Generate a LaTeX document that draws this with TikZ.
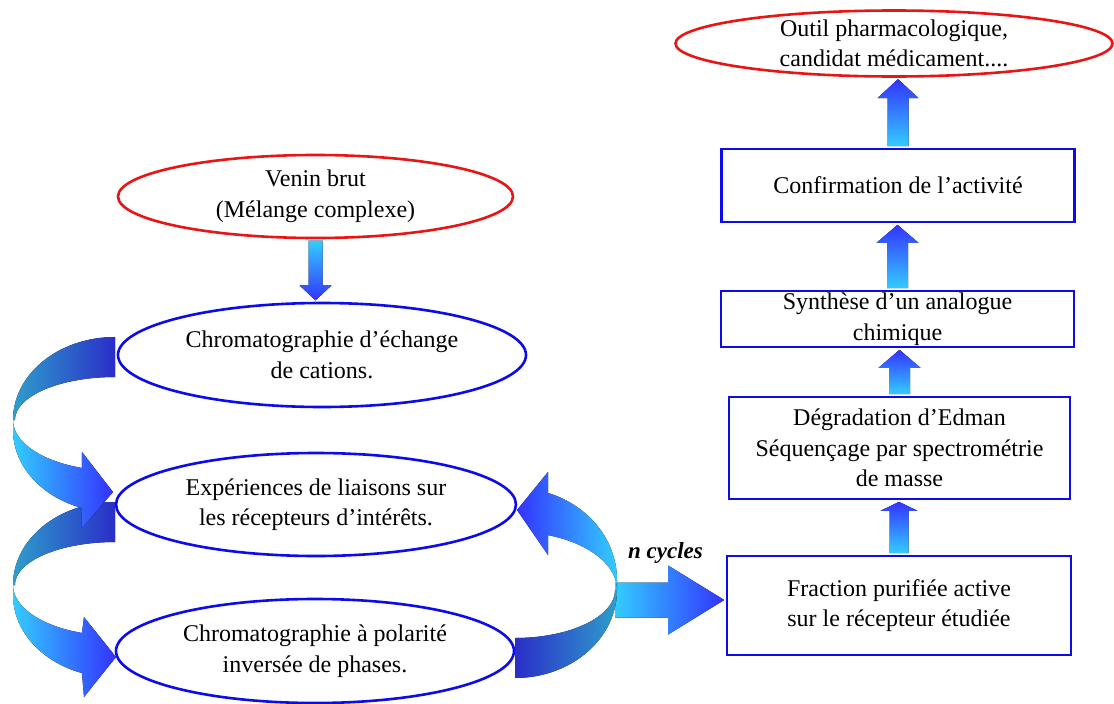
\documentclass[tikz,border=0pt]{standalone}
\usepackage{fontspec}
\setmainfont{Liberation Serif}
\usetikzlibrary{shapes.geometric,calc}
\definecolor{bord}{RGB}{12,12,235}
\definecolor{redb}{RGB}{235,20,20}
\definecolor{cyanA}{RGB}{51,204,255}
\definecolor{blueA}{RGB}{51,51,255}
\definecolor{darkA}{RGB}{42,46,200}
\definecolor{tealA}{RGB}{46,158,203}
\newcommand\vblock[6]{% #1 from, #2 to (tip), #3 half shaft, #4 half head, #5 head length (negative = down), #6 style
  \fill[#6] let \p1=(#1), \p2=(#2) in
  ({\x1-#3},{\y1}) -- ({\x1-#3},{\y2-(#5)}) -- ({\x1-#4},{\y2-(#5)}) -- ({\x1},{\y2}) --
  ({\x1+#4},{\y2-(#5)}) -- ({\x1+#3},{\y2-(#5)}) -- ({\x1+#3},{\y1}) -- cycle;}
\begin{document}
\begin{tikzpicture}[x=1pt,y=-1pt,
  every node/.style={font=\fontsize{24}{30.5}\selectfont, align=center},
  ell/.style={ellipse, draw=bord, line width=2.6pt, inner sep=0pt},
  redell/.style={ellipse, draw=redb, line width=2.6pt, inner sep=0pt},
  box/.style={rectangle, draw=bord, line width=2.8pt, inner sep=0pt},
  uparrow/.style={top color=blueA, bottom color=cyanA},
  downarrow/.style={top color=cyanA, bottom color=blueA},
  backband/.style={left color=tealA, right color=darkA},
  backbandR/.style={left color=darkA, right color=tealA},
  frontband/.style={left color=cyanA, right color=blueA},
  frontbandR/.style={left color=blueA, right color=cyanA}]
\fill[white] (0,0) rectangle (1114,704);
\useasboundingbox (0,0) rectangle (1114,704);

% right column
\node[redell, minimum width=437pt, minimum height=66pt,
      label={center:{Outil pharmacologique,\\candidat médicament....}}] (outil) at (894,43.5) {};
\node[box, minimum width=353pt, minimum height=73pt] (conf) at (898,185.5) {Confirmation de l’activité};
\node[box, minimum width=353pt, minimum height=56pt] (synth) at (897.5,319) {Synthèse d’un analogue\\chimique};
\node[box, minimum width=341pt, minimum height=102pt] (degr) at (899.5,448) {Dégradation d’Edman\\Séquençage par spectrométrie\\de masse};
\node[box, minimum width=344pt, minimum height=99pt] (frac) at (899,605.5) {Fraction purifiée active\\sur le récepteur étudiée};

% left column
\node[redell, minimum width=395pt, minimum height=83pt,
      label={center:{Venin brut\\(Mélange complexe)}}] (venin) at (315.5,196.5) {};
\node[ell, minimum width=408pt, minimum height=104pt,
      label={center:{Chromatographie d’échange\\de cations.}}] (chrom1) at (322,355) {};
\node[ell, minimum width=400pt, minimum height=103pt,
      label={center:{Expériences de liaisons sur\\les récepteurs d’intérêts.}}] (exp) at (316,504.5) {};
\node[ell, minimum width=398pt, minimum height=104pt,
      label={center:{Chromatographie à polarité\\inversée de phases.}}] (chrom2) at (315,651) {};

% straight block arrows
\vblock{[yshift=1.4pt]conf.north}{[yshift=-1.3pt]outil.south}{10.5pt}{20.5pt}{19pt}{uparrow}
\vblock{[yshift=1.4pt]synth.north}{[yshift=-1.4pt]conf.south}{10.5pt}{21pt}{18pt}{uparrow}
\vblock{[yshift=1.4pt]degr.north}{[yshift=-1.4pt]synth.south}{10.5pt}{21pt}{18pt}{uparrow}
\vblock{[yshift=1.4pt]frac.north}{[yshift=-1.4pt]degr.south}{9.5pt}{18.5pt}{9pt}{uparrow}
\vblock{[yshift=-1.3pt]venin.south}{[yshift=1.3pt]chrom1.north}{7pt}{16pt}{-15pt}{downarrow}

% n cycles arrow
\coordinate (cyc) at (615,600);
\fill[frontband] let \p1=(cyc), \p2=([xshift=-1.4pt]frac.west) in
  ({\x1},{\y1+17.5pt}) -- ({\x2-56pt},{\y1+17.5pt}) -- ({\x2-56pt},{\y1+34.5pt}) -- ({\x2},{\y1})
  -- ({\x2-56pt},{\y1-34.5pt}) -- ({\x2-56pt},{\y1-17.5pt}) -- ({\x1},{\y1-17.5pt}) -- cycle;
\node[font=\bfseries\itshape\fontsize{23}{28}\selectfont, anchor=base] (ncyc) at (665.5,558) {n cycles};

% lower-left curved arrow
\fill[backband] plot[domain=90:180,samples=40] ({115+102*cos(\x)},{585-83*sin(\x)})
  -- plot[domain=180:90,samples=40] ({115+100*cos(\x)},{585-43*sin(\x)}) -- cycle;
\fill[frontband] (13,585) -- plot[domain=180:251.1,samples=40] ({115+102*cos(\x)},{595-82.5*sin(\x)})
  -- (84,697) -- (116,657) -- (84,617)
  -- plot[domain=251.1:180,samples=40] ({115+102*cos(\x)},{585-50.7*sin(\x)}) -- cycle;

% upper-left curved arrow
\fill[backband] plot[domain=90:180,samples=40] ({115+102*cos(\x)},{420-83*sin(\x)})
  -- plot[domain=180:90,samples=40] ({115+100*cos(\x)},{420-43*sin(\x)}) -- cycle;
\fill[frontband] (13,420) -- plot[domain=180:251.1,samples=40] ({115+102*cos(\x)},{430-82.5*sin(\x)})
  -- (82,528) -- (113,492) -- (82,452)
  -- plot[domain=251.1:180,samples=40] ({115+102*cos(\x)},{420-50.7*sin(\x)}) -- cycle;

% right curved arrow
\fill[backbandR] plot[domain=270:360,samples=40] ({515+102*cos(\x)},{590-88*sin(\x)})
  -- plot[domain=360:270,samples=40] ({515+100*cos(\x)},{590-48*sin(\x)}) -- cycle;
\fill[frontbandR] (617,590) -- plot[domain=0:71.1,samples=40] ({515+102*cos(\x)},{580-92*sin(\x)})
  -- (548,472) -- (517,510) -- (548,555)
  -- plot[domain=71.1:0,samples=40] ({515+102*cos(\x)},{590-58*sin(\x)}) -- cycle;
\end{tikzpicture}
\end{document}
